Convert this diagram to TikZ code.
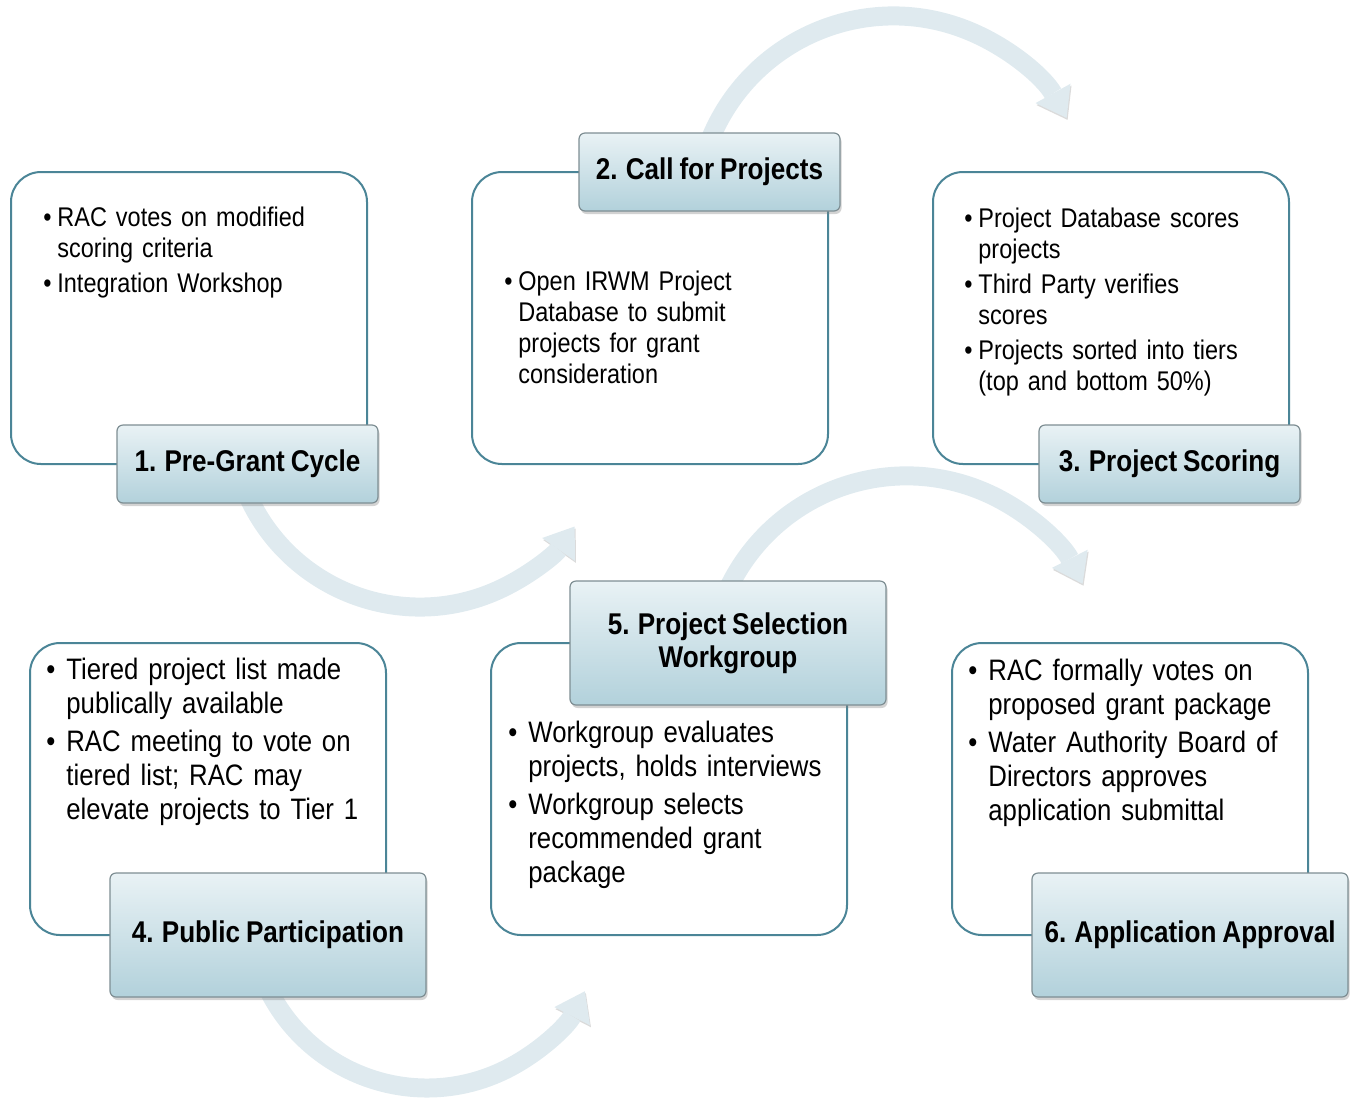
\documentclass[tikz,border=0pt]{standalone}
\usepackage{fontspec}
\setmainfont[FakeStretch=0.87,WordSpace=0.8]{Liberation Sans}
\usepackage{enumitem}
\usetikzlibrary{positioning,shadows,arrows.meta,backgrounds}

\definecolor{panelline}{HTML}{4B8597}
\definecolor{titletop}{HTML}{E9F2F5}
\definecolor{titlebot}{HTML}{B2D1DB}
\definecolor{titleline}{HTML}{7E8E93}
\definecolor{arrowfill}{HTML}{DFEAEF}

\newlist{pointlist}{itemize}{1}
\setlist[pointlist]{label=\textbullet, nosep, itemsep=2pt, leftmargin=7pt, labelwidth=7pt, labelsep=0pt, align=left}
\newlist{widelist}{itemize}{1}
\setlist[widelist]{label=\textbullet, nosep, itemsep=2pt, leftmargin=10pt, labelwidth=10pt, labelsep=0pt, align=left}

\tikzset{
  panel/.style={draw=panelline, line width=1pt, rounded corners=15pt, fill=white,
    minimum width=178pt, minimum height=146pt, inner sep=0pt, outer sep=0pt},
  stage/.style={draw=titleline, line width=0.6pt, rounded corners=3pt,
    top color=titletop, bottom color=titlebot,
    drop shadow={shadow xshift=0.8pt, shadow yshift=-1.5pt, opacity=0.35},
    font=\fontsize{15}{16.5}\selectfont\bfseries, align=center,
    inner sep=0pt, outer sep=0pt},
  small stage/.style={stage, minimum width=130.5pt, minimum height=39pt},
  big stage/.style={stage, minimum width=158pt, minimum height=62pt},
  notes/.style={anchor=north west, inner sep=0pt, text width=165pt, align=left,
    font=\fontsize{13.5}{15.5}\selectfont},
  wide notes/.style={notes, font=\fontsize{14.8}{17}\selectfont},
  loop arrow/.style={draw=arrowfill, line width=9.5pt,
    preaction={draw=gray!28, transform canvas={shift={(0.5pt,-1pt)}}},
    -{Triangle[width=20pt,length=14pt,line width=0pt]}}
}

\begin{document}
\begin{tikzpicture}[x=0.5pt,y=0.5pt]
\useasboundingbox (0,0) rectangle (1354,-1099);

% panels
\node[panel] (pA) at (189,-318) {};
\node[panel] (pB) at (650,-318) {};
\node[panel] (pC) at (1111,-318) {};
\node[panel] (pD) at (208,-789) {};
\node[panel] (pE) at (669,-789) {};
\node[panel] (pF) at (1130,-789) {};

% stage titles
\node[small stage, anchor=east] (t1) at ([xshift=5.5pt]pA.south east) {1. Pre-Grant Cycle};
\node[small stage, anchor=east] (t2) at ([xshift=6pt]pB.north east) {2. Call for Projects};
\node[small stage, anchor=east] (t3) at ([xshift=5.5pt]pC.south east) {3. Project Scoring};
\node[big stage, anchor=east] (t4) at ([xshift=20pt]pD.south east) {4. Public Participation};
\node[big stage, anchor=east] (t5) at ([xshift=19.5pt]pE.north east) {5. Project Selection\\Workgroup};
\node[big stage, anchor=east] (t6) at ([xshift=20pt]pF.south east) {6. Application Approval};

% notes
\node[notes] (xA) at ([shift={(32,-23)}]pA.north west) {%
  \begin{pointlist}
  \item RAC votes on modified\\scoring criteria
  \item Integration Workshop
  \end{pointlist}};
\node[notes] (xB) at ([shift={(32,-87)}]pB.north west) {%
  \begin{pointlist}
  \item Open IRWM Project\\Database to submit\\projects for grant\\consideration
  \end{pointlist}};
\node[notes] (xC) at ([shift={(31,-24)}]pC.north west) {%
  \begin{pointlist}
  \item Project Database scores\\projects
  \item Third Party verifies\\scores
  \item Projects sorted into tiers\\(top and bottom 50\%)
  \end{pointlist}};
\node[wide notes] (xD) at ([shift={(16,-2)}]pD.north west) {%
  \begin{widelist}
  \item Tiered project list made\\publically available
  \item RAC meeting to vote on\\tiered list; RAC may\\elevate projects to Tier 1
  \end{widelist}};
\node[wide notes] (xE) at ([shift={(17,-65)}]pE.north west) {%
  \begin{widelist}
  \item Workgroup evaluates\\projects, holds interviews
  \item Workgroup selects\\recommended grant\\package
  \end{widelist}};
\node[wide notes] (xF) at ([shift={(16,-3)}]pF.north west) {%
  \begin{widelist}
  \item RAC formally votes on\\proposed grant package
  \item Water Authority Board of\\Directors approves\\application submittal
  \end{widelist}};

% curved arrows behind the boxes
\begin{scope}[on background layer]
\draw[loop arrow] ([yshift=4pt]t1.south) arc[start angle=204, end angle=325, radius=94.4pt];
\draw[loop arrow] ([yshift=-4pt]t2.north) arc[start angle=158.4, end angle=29, radius=98.95pt];
\draw[loop arrow] ([yshift=-4pt]t5.north) arc[start angle=154.7, end angle=27, radius=98.75pt];
\draw[loop arrow] ([yshift=4pt]t4.south) arc[start angle=206.2, end angle=333, radius=88.6pt];
\end{scope}
\end{tikzpicture}
\end{document}
